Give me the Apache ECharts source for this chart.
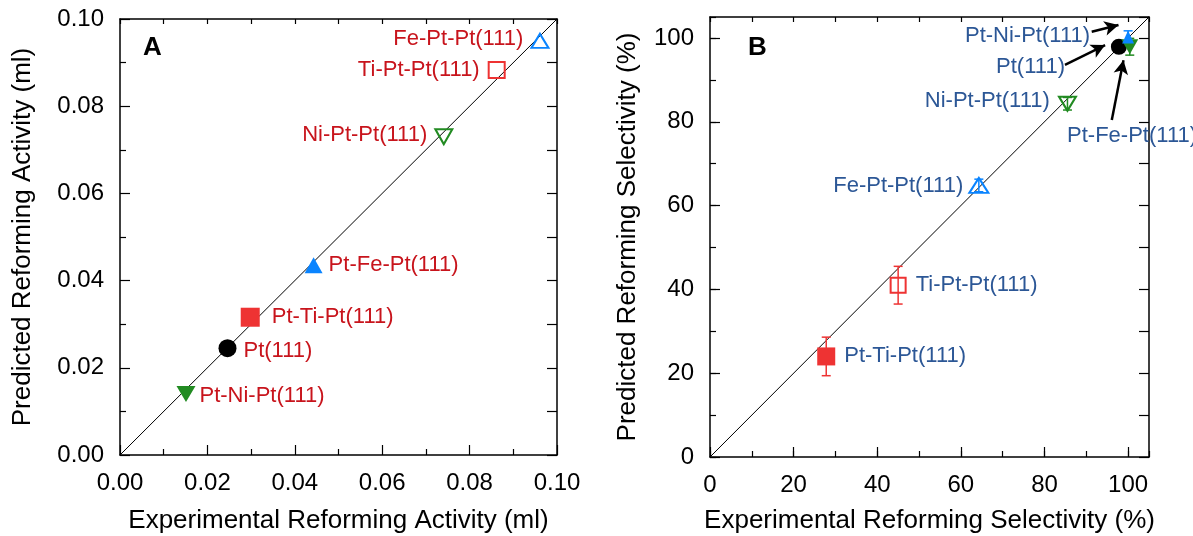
<!DOCTYPE html>
<html>
<head>
<meta charset="utf-8">
<script src="https://cdn.jsdelivr.net/npm/echarts@6/dist/echarts.min.js"></script>
<style>
  html, body { margin: 0; padding: 0; background: #fff; }
  #chart { width: 1193px; height: 536px; }
</style>
</head>
<body>
<div id="chart"></div>
<script>
// Surfaces compared in both panels
const surfaces = ['Pt(111)', 'Pt-Ni-Pt(111)', 'Pt-Ti-Pt(111)', 'Pt-Fe-Pt(111)', 'Ni-Pt-Pt(111)', 'Ti-Pt-Pt(111)', 'Fe-Pt-Pt(111)'];

// Panel A: reforming activity (ml)
const activityExp  = [0.0246, 0.0151, 0.0298, 0.0443, 0.0741, 0.0862, 0.0961];
const activityPred = [0.0245, 0.0140, 0.0316, 0.0435, 0.0730, 0.0883, 0.0950];
const activityTicks = ['0.00', '0.02', '0.04', '0.06', '0.08', '0.10'];

// Panel B: reforming selectivity (%)
const selectivityExp  = [97.8, 100.4, 27.8, 100.0, 85.5, 45.0, 64.3];
const selectivityPred = [97.9, 97.9, 24.0, 100.2, 84.3, 41.0, 64.8];
const selectivityErr  = [0, 2.0, 4.6, 1.5, 1.5, 4.5, 1.5];
const selectivityTicks = ['0', '20', '40', '60', '80', '100'];

const FONT = '"Liberation Sans", Arial, Helvetica, sans-serif';
const RED = '#ee3333', BLUE = '#0a84ff', GREEN = '#228b22', BLACK = '#000000';
const LABEL_A = '#c8141c', LABEL_B = '#2c5796';

// Marker look for each surface
const markStyle = {
  'Pt(111)':       { symbol: 'circle',   color: BLACK, open: false, rot: 0 },
  'Pt-Ni-Pt(111)': { symbol: 'triangle', color: GREEN, open: false, rot: 180 },
  'Pt-Ti-Pt(111)': { symbol: 'rect',     color: RED,   open: false, rot: 0 },
  'Pt-Fe-Pt(111)': { symbol: 'triangle', color: BLUE,  open: false, rot: 0 },
  'Ni-Pt-Pt(111)': { symbol: 'triangle', color: GREEN, open: true,  rot: 180 },
  'Ti-Pt-Pt(111)': { symbol: 'rect',     color: RED,   open: true,  rot: 0 },
  'Fe-Pt-Pt(111)': { symbol: 'triangle', color: BLUE,  open: true,  rot: 0 }
};

// Marker sizes per panel
const sizeA = {
  'Pt(111)': 18, 'Pt-Ni-Pt(111)': [19, 16], 'Pt-Ti-Pt(111)': 19, 'Pt-Fe-Pt(111)': [18, 16],
  'Ni-Pt-Pt(111)': [17, 15], 'Ti-Pt-Pt(111)': 16, 'Fe-Pt-Pt(111)': [17, 14]
};
const sizeB = {
  'Pt(111)': 16, 'Pt-Ni-Pt(111)': [17, 15], 'Pt-Ti-Pt(111)': 18, 'Pt-Fe-Pt(111)': [12, 13],
  'Ni-Pt-Pt(111)': [17, 14], 'Ti-Pt-Pt(111)': 15, 'Fe-Pt-Pt(111)': [19, 15]
};

// Label placement next to each marker: [position, distance, offset]
const labelA = {
  'Fe-Pt-Pt(111)': ['left', 7, [0, -2]],
  'Ti-Pt-Pt(111)': ['left', 8, [0, 0]],
  'Ni-Pt-Pt(111)': ['left', 7, [0, -2]],
  'Pt-Fe-Pt(111)': ['right', 6, [0, 0]],
  'Pt-Ti-Pt(111)': ['right', 12, [0, 0]],
  'Pt(111)':       ['right', 7, [0, 3]],
  'Pt-Ni-Pt(111)': ['right', 4, [0, 2]]
};
const labelB = {
  'Pt-Ti-Pt(111)': ['right', 9, [0, 0]],
  'Ti-Pt-Pt(111)': ['right', 9, [0, 0]],
  'Fe-Pt-Pt(111)': ['left', 5, [0, 0]],
  'Ni-Pt-Pt(111)': ['left', 8, [0, -3]]
};

// Callout labels with arrows for the crowded corner of panel B
const calloutsB = [
  { name: 'Pt-Ni-Pt(111)', at: [90.9, 100.5], side: 'left',  arrow: [[91.3, 101.5], [97.7, 103.1]] },
  { name: 'Pt(111)',       at: [84.9, 93.2],  side: 'left',  arrow: [[84.9, 93.6], [94.5, 98.3]] },
  { name: 'Pt-Fe-Pt(111)', at: [85.4, 76.7],  side: 'right', arrow: [[96.1, 80.4], [98.9, 94.7]] }
];

function markerData(xs, ys, sizes, labels, labelColor) {
  return surfaces.map((name, i) => {
    const st = markStyle[name];
    const lb = labels[name];
    return {
      name: name,
      value: [xs[i], ys[i]],
      symbol: st.symbol,
      symbolRotate: st.rot,
      symbolSize: sizes[name],
      itemStyle: st.open
        ? { color: 'rgba(0,0,0,0)', borderColor: st.color, borderWidth: 2, opacity: 1 }
        : { color: st.color, borderWidth: 0, opacity: 1 },
      label: lb ? {
        show: true, formatter: name, position: lb[0], distance: lb[1], offset: lb[2],
        color: labelColor, fontSize: 22, fontFamily: FONT
      } : { show: false }
    };
  });
}

const axisLineStyle = { show: true, onZero: false, lineStyle: { color: BLACK, width: 1.5 } };
const tickStyle = (len) => ({ show: true, inside: true, length: len, lineStyle: { color: BLACK, width: 1.2 } });

function labeledAxis(grid, pos, max, interval, minorCount, fmt, showMax, name, nameGap, rotate) {
  return {
    type: 'value', gridIndex: grid, position: pos, min: 0, max: max, interval: interval,
    axisLine: axisLineStyle, axisTick: tickStyle(10),
    minorTick: minorCount ? { show: true, splitNumber: minorCount, length: 6, lineStyle: { color: BLACK, width: 1.2 } } : { show: false },
    splitLine: { show: false }, minorSplitLine: { show: false },
    axisLabel: { show: true, formatter: fmt, fontSize: 24, color: BLACK, margin: 16, fontFamily: FONT, showMaxLabel: showMax, showMinLabel: true },
    name: name, nameLocation: 'middle', nameGap: nameGap, nameRotate: rotate,
    nameTextStyle: { fontSize: 26, color: BLACK, fontFamily: FONT }
  };
}
function plainAxis(grid, pos, max, interval, len, showLine) {
  return {
    type: 'value', gridIndex: grid, position: pos, min: 0, max: max, interval: interval,
    axisLine: showLine ? axisLineStyle : { show: false, onZero: false },
    axisTick: tickStyle(len), axisLabel: { show: false }, splitLine: { show: false }
  };
}

// Tick text comes from the label lists; ticks falling outside them stay blank
const fmtA = (v) => {
  const i = Math.round(v / 0.02);
  return Math.abs(v - i * 0.02) < 1e-9 && activityTicks[i] !== undefined ? activityTicks[i] : '';
};
const fmtB = (v) => {
  const i = Math.round(v / 20);
  return Math.abs(v - i * 20) < 1e-9 && selectivityTicks[i] !== undefined ? selectivityTicks[i] : '';
};

const gridA = { left: 120, top: 19, width: 437, height: 436, outerBoundsMode: 'none', containLabel: false };
const gridB = { left: 710, top: 17, width: 439, height: 440, outerBoundsMode: 'none', containLabel: false };

const option = {
  animation: false,
  textStyle: { fontFamily: FONT },
  grid: [gridA, gridB, Object.assign({}, gridB)],
  xAxis: [
    labeledAxis(0, 'bottom', 0.1, 0.02, 2, fmtA, true, 'Experimental Reforming Activity (ml)', 53, 0),
    plainAxis(0, 'top', 0.1, 0.01, 5, true),
    labeledAxis(1, 'bottom', 105, 20, 0, fmtB, false, 'Experimental Reforming Selectivity (%)', 51, 0),
    plainAxis(1, 'top', 105, 10, 5, true),
    plainAxis(2, 'bottom', 105, 10, 6, false)
  ],
  yAxis: [
    labeledAxis(0, 'left', 0.1, 0.02, 2, fmtA, true, 'Predicted Reforming Activity (ml)', 84, 90),
    plainAxis(0, 'right', 0.1, 0.01, 10, true),
    labeledAxis(1, 'left', 105, 20, 0, fmtB, false, 'Predicted Reforming Selectivity (%)', 69, 90),
    plainAxis(1, 'right', 105, 10, 10, true),
    plainAxis(2, 'left', 105, 10, 6, false)
  ],
  graphic: [
    { type: 'text', left: 143, top: 35, style: { text: 'A', font: 'bold 26px ' + FONT, fill: BLACK } },
    { type: 'text', left: 748, top: 35, style: { text: 'B', font: 'bold 26px ' + FONT, fill: BLACK } }
  ],
  series: [
    // parity lines
    {
      type: 'line', xAxisIndex: 0, yAxisIndex: 0, data: [[0, 0], [0.1, 0.1]],
      showSymbol: false, symbol: 'none', lineStyle: { color: BLACK, width: 1 }, z: 1, silent: true
    },
    {
      type: 'line', xAxisIndex: 2, yAxisIndex: 2, data: [[0, 0], [105, 105]],
      showSymbol: false, symbol: 'none', lineStyle: { color: BLACK, width: 1 }, z: 1, silent: true
    },
    // error bars on selectivity
    {
      type: 'custom', xAxisIndex: 2, yAxisIndex: 2, z: 2, silent: true,
      data: surfaces.map((name, i) => ({ name: name, value: [selectivityExp[i], selectivityPred[i], selectivityErr[i]] }))
        .filter(d => d.value[2] > 0),
      renderItem: function (params, api) {
        const withErr = surfaces.filter((s, i) => selectivityErr[i] > 0);
        const color = markStyle[withErr[params.dataIndex]].color;
        const x = api.value(0), y = api.value(1), e = api.value(2);
        const top = api.coord([x, y + e]);
        const bot = api.coord([x, y - e]);
        const hw = 4.5;
        const st = { stroke: color, lineWidth: 1.5 };
        return {
          type: 'group', children: [
            { type: 'line', shape: { x1: top[0], y1: top[1], x2: bot[0], y2: bot[1] }, style: st },
            { type: 'line', shape: { x1: top[0] - hw, y1: top[1], x2: top[0] + hw, y2: top[1] }, style: st },
            { type: 'line', shape: { x1: bot[0] - hw, y1: bot[1], x2: bot[0] + hw, y2: bot[1] }, style: st }
          ]
        };
      }
    },
    // markers
    {
      type: 'scatter', xAxisIndex: 0, yAxisIndex: 0, z: 3,
      data: markerData(activityExp, activityPred, sizeA, labelA, LABEL_A)
    },
    {
      type: 'scatter', xAxisIndex: 2, yAxisIndex: 2, z: 3,
      data: markerData(selectivityExp, selectivityPred, sizeB, labelB, LABEL_B)
    },
    // callout labels and arrows
    {
      type: 'scatter', xAxisIndex: 2, yAxisIndex: 2, z: 4, symbolSize: 0, silent: true,
      itemStyle: { opacity: 1 },
      data: calloutsB.map(c => ({
        name: c.name, value: c.at,
        label: { show: true, formatter: c.name, position: c.side, distance: 0, color: LABEL_B, opacity: 1, fontSize: 22, fontFamily: FONT }
      })),
      markLine: {
        silent: true, animation: false,
        symbol: ['none', 'arrow'], symbolSize: [11, 14],
        lineStyle: { color: BLACK, width: 2.5, type: 'solid', opacity: 1 },
        label: { show: false },
        data: calloutsB.map(c => [{ coord: c.arrow[0] }, { coord: c.arrow[1] }])
      }
    }
  ]
};

const chart = echarts.init(document.getElementById('chart'), null, { renderer: 'canvas' });
chart.setOption(option);
</script>
</body>
</html>
